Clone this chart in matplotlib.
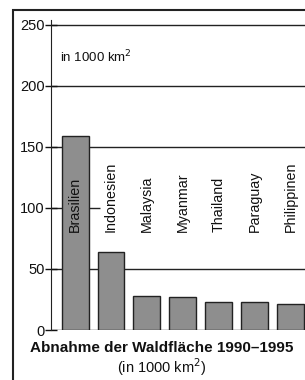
import numpy as np
import matplotlib
matplotlib.use('Agg')
import matplotlib.pyplot as plt
from matplotlib.patches import Rectangle

plt.rcParams['font.family'] = ['Liberation Sans', 'DejaVu Sans']

countries = ['Brasilien', 'Indonesien', 'Malaysia', 'Myanmar', 'Thailand', 'Paraguay', 'Philippinen']
loss = [159, 64, 28, 27, 23, 23, 21]
yticks = [0, 50, 100, 150, 200, 250]

fig = plt.figure(figsize=(3.05, 3.8), dpi=100)
ax = fig.add_axes([51/305, 1-330/380, 1-51/305, 310/380])

x = np.arange(len(countries))
ax.bar(x, loss, width=0.75, color='#8e8e8e', edgecolor='#222222', linewidth=1, zorder=3)

# gridlines (100 is broken by the labels)
for v in [0, 50, 150, 200, 250]:
    ax.axhline(v, color='#222222', linewidth=1, zorder=1)
ax.hlines(100, -0.7, 0.7, color='#222222', linewidth=1, zorder=1)

for i, name in enumerate(countries):
    ax.text(x[i], 80, name, rotation=90, ha='center', va='bottom',
            fontsize=10.3, color='#111111', zorder=4)

ax.text(-0.42, 224, 'in 1000 km$^2$', fontsize=9.5, va='center', ha='left', color='#111111')

ax.set_xlim(-0.667, 6.39)
ax.set_ylim(0, 254)
ax.set_yticks(yticks)
ax.set_xticks([])
ax.tick_params(axis='y', direction='inout', length=8, width=1, labelsize=10.5, pad=0.5, colors='#111111')
for s in ['top', 'right', 'bottom']:
    ax.spines[s].set_visible(False)
ax.spines['left'].set_bounds(0, 254)
ax.spines['left'].set_color('#222222')

fig.text(162/305, 1-348/380, 'Abnahme der Waldfläche 1990\u20131995', ha='center', va='center',
         fontsize=11, fontweight='bold', color='#111111')
fig.text(162/305, 1-367/380, '(in 1000 km$^2$)', ha='center', va='center', fontsize=10.5, color='#111111')

# outer frame
fig.patches.append(Rectangle((13/305, -0.1), 1.2, 1-10/380+0.1, transform=fig.transFigure,
                             fill=False, edgecolor='#222222', linewidth=1.5, clip_on=False))

plt.savefig('out.png', dpi=100)
